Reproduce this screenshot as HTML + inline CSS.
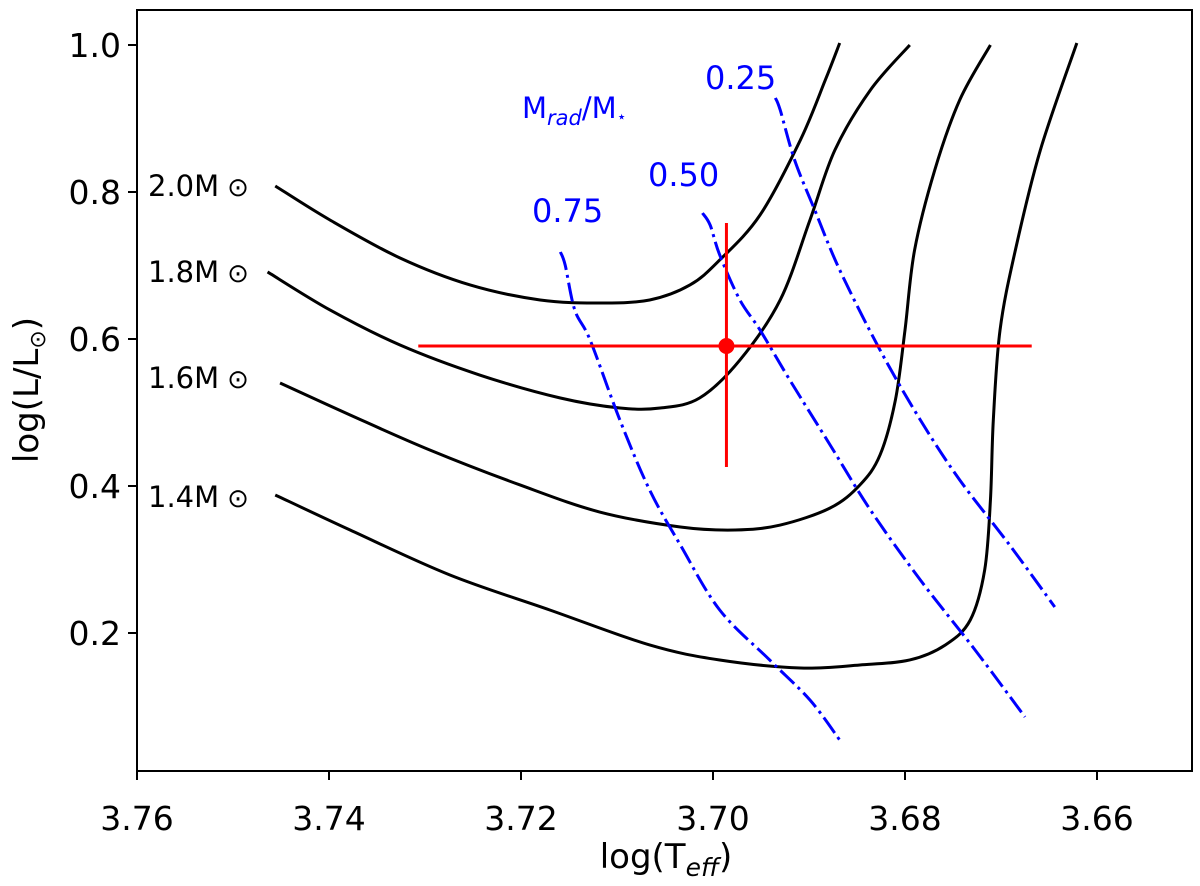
<!DOCTYPE html>
<html><head><meta charset="utf-8"><style>
html,body{margin:0;padding:0;background:#fff;}
svg{display:block;font-family:"DejaVu Sans","Liberation Sans",sans-serif;}
</style></head><body>
<svg id="chart" width="1200" height="886" viewBox="0 0 1200 886" xmlns="http://www.w3.org/2000/svg">
<rect x="0" y="0" width="1200" height="886" fill="#fff"/>
<g id="plot"></g>
<rect x="137" y="10" width="1055" height="761" fill="none" stroke="#000" stroke-width="2"/>
<g id="xticks"></g><g id="yticks"></g>
<text x="666" y="868" font-size="34" text-anchor="middle">log(T<tspan font-size="25" font-style="italic" dy="8">eff</tspan><tspan dy="-8">)</tspan></text>
<text transform="translate(38,390) rotate(-90)" font-size="34" text-anchor="middle">log(L/L<tspan font-size="22" dy="7">⊙</tspan><tspan dy="-7">)</tspan></text>
<text x="148" y="196" font-size="29">2.0M<tspan font-size="26" dx="8">⊙</tspan></text>
<text x="148" y="282" font-size="29">1.8M<tspan font-size="26" dx="8">⊙</tspan></text>
<text x="148" y="388" font-size="29">1.6M<tspan font-size="26" dx="8">⊙</tspan></text>
<text x="148" y="507" font-size="29">1.4M<tspan font-size="26" dx="8">⊙</tspan></text>
<text x="522" y="118" font-size="29" fill="#0000ff">M<tspan font-size="21" font-style="italic" dy="7">rad</tspan><tspan dy="-7">/M</tspan><tspan font-size="16" dy="4">⋆</tspan></text>
<text x="705" y="89" font-size="32" fill="#0000ff">0.25</text>
<text x="648" y="186" font-size="32" fill="#0000ff">0.50</text>
<text x="532" y="222" font-size="32" fill="#0000ff">0.75</text>
</svg>
<script>
const xTicks=[3.76,3.74,3.72,3.70,3.68,3.66];
const xTickLabels=["3.76","3.74","3.72","3.70","3.68","3.66"];
const yTicks=[0.2,0.4,0.6,0.8,1.0];
const yTickLabels=["0.2","0.4","0.6","0.8","1.0"];
const track20T=[3.7456,3.7399,3.7326,3.7253,3.7180,3.7118,3.7066,3.7024,3.6993,3.6951,3.6909,3.6883,3.6868];
const track20L=[0.8082,0.7619,0.7102,0.6735,0.6531,0.6490,0.6531,0.6735,0.7075,0.7687,0.8707,0.9524,1.0027];
const track18T=[3.7464,3.7399,3.7326,3.7243,3.7159,3.7097,3.7055,3.7014,3.6972,3.6930,3.6899,3.6873,3.6836,3.6795];
const track18L=[0.6912,0.6395,0.5918,0.5510,0.5197,0.5061,0.5061,0.5197,0.5714,0.6531,0.7619,0.8571,0.9388,1.0];
const track16T=[3.7451,3.7378,3.7295,3.7201,3.7118,3.7034,3.6977,3.6930,3.6878,3.6847,3.6826,3.6810,3.6800,3.6790,3.6769,3.6743,3.6711];
const track16L=[0.5401,0.4966,0.4490,0.4014,0.3646,0.3442,0.3401,0.3469,0.3701,0.4014,0.4422,0.5170,0.6122,0.7211,0.8299,0.9252,1.0];
const track14T=[3.7456,3.7378,3.7274,3.7170,3.7066,3.6993,3.6909,3.6847,3.6795,3.6758,3.6732,3.6717,3.6711,3.6708,3.6701,3.6685,3.6659,3.6621];
const track14L=[0.3878,0.3401,0.2789,0.2313,0.1837,0.1633,0.1524,0.1565,0.1633,0.1837,0.2177,0.2857,0.3810,0.4898,0.6122,0.7211,0.8571,1.0027];
const mrad75T=[3.7159,3.7154,3.7144,3.7128,3.7097,3.7066,3.7034,3.6993,3.6941,3.6899,3.6868];
const mrad75L=[0.7184,0.7007,0.6395,0.5986,0.4898,0.3946,0.3197,0.2313,0.1633,0.1088,0.0544];
const mrad50T=[3.7011,3.7003,3.6993,3.6972,3.6951,3.6920,3.6878,3.6836,3.6784,3.6727,3.6675];
const mrad50L=[0.7714,0.7551,0.7143,0.6531,0.6122,0.5442,0.4558,0.3673,0.2721,0.1769,0.0857];
const mrad25T=[3.6935,3.6930,3.6915,3.6894,3.6868,3.6826,3.6784,3.6743,3.6691,3.6644];
const mrad25L=[0.9279,0.9116,0.8435,0.7755,0.6939,0.5850,0.4898,0.4082,0.3197,0.2354];
const starT=[3.6986], starL=[0.5905];
const starTErr=[3.7307,3.6668], starLErr=[0.7578,0.4259];

const NS="http://www.w3.org/2000/svg";
function sx(v){return 137+(3.76-v)/0.02*192;}
function sy(v){return 45+(1.0-v)/0.2*147;}
function mk(tag,parent){const e=document.createElementNS(NS,tag);parent.appendChild(e);return e;}
function smooth(T,L){
  const p=T.map((t,i)=>[sx(t),sy(L[i])]);
  let d="M"+p[0][0]+","+p[0][1];
  for(let i=0;i<p.length-1;i++){
    const p0=p[i-1]||p[i],p1=p[i],p2=p[i+1],p3=p[i+2]||p[i+1];
    const c1=[p1[0]+(p2[0]-p0[0])/6,p1[1]+(p2[1]-p0[1])/6];
    const c2=[p2[0]-(p3[0]-p1[0])/6,p2[1]-(p3[1]-p1[1])/6];
    d+=" C"+c1[0]+","+c1[1]+" "+c2[0]+","+c2[1]+" "+p2[0]+","+p2[1];
  }
  return d;
}
const plot=document.getElementById('plot');
const tracks=[[track20T,track20L,'track-2-0-msun'],[track18T,track18L,'track-1-8-msun'],[track16T,track16L,'track-1-6-msun'],[track14T,track14L,'track-1-4-msun']];
tracks.forEach(tr=>{
  const e=mk('path',plot);
  e.setAttribute('d',smooth(tr[0],tr[1]));
  e.setAttribute('fill','none');e.setAttribute('stroke','#000');e.setAttribute('stroke-width','3');
  
  
});
const mr=[[mrad75T,mrad75L,'mrad-0-75-line'],[mrad50T,mrad50L,'mrad-0-50-line'],[mrad25T,mrad25L,'mrad-0-25-line']];
mr.forEach(tr=>{
  const e=mk('path',plot);
  e.setAttribute('d',smooth(tr[0],tr[1]));
  e.setAttribute('fill','none');e.setAttribute('stroke','#0000ff');e.setAttribute('stroke-width','3');
  e.setAttribute('stroke-dasharray','19 5 3 5');
  
  
});
const ex=mk('line',plot);
ex.setAttribute('x1',sx(starTErr[0]));ex.setAttribute('x2',sx(starTErr[1]));
ex.setAttribute('y1',sy(starL[0]));ex.setAttribute('y2',sy(starL[0]));
ex.setAttribute('stroke','#ff0000');ex.setAttribute('stroke-width','3');


const ey=mk('line',plot);
ey.setAttribute('x1',sx(starT[0]));ey.setAttribute('x2',sx(starT[0]));
ey.setAttribute('y1',sy(starLErr[0]));ey.setAttribute('y2',sy(starLErr[1]));
ey.setAttribute('stroke','#ff0000');ey.setAttribute('stroke-width','3');


const pt=mk('circle',plot);
pt.setAttribute('cx',sx(starT[0]));pt.setAttribute('cy',sy(starL[0]));pt.setAttribute('r','8');pt.setAttribute('fill','#ff0000');



const xg=document.getElementById('xticks');
xTicks.forEach((v,i)=>{
  const l=mk('line',xg);
  l.setAttribute('x1',sx(v));l.setAttribute('x2',sx(v));l.setAttribute('y1',771);l.setAttribute('y2',780);
  l.setAttribute('stroke','#000');l.setAttribute('stroke-width','2');
  
  
  const t=mk('text',xg);
  t.setAttribute('x',sx(v));t.setAttribute('y',830);t.setAttribute('font-size','33');t.setAttribute('text-anchor','middle');
  t.textContent=xTickLabels[i];
  
  
});
const yg=document.getElementById('yticks');
yTicks.forEach((v,i)=>{
  const l=mk('line',yg);
  l.setAttribute('x1',128);l.setAttribute('x2',137);l.setAttribute('y1',sy(v));l.setAttribute('y2',sy(v));
  l.setAttribute('stroke','#000');l.setAttribute('stroke-width','2');
  
  
  const t=mk('text',yg);
  t.setAttribute('x',121);t.setAttribute('y',sy(v)+12);t.setAttribute('font-size','33');t.setAttribute('text-anchor','end');
  t.textContent=yTickLabels[i];
  
  
});
</script>
</body></html>
